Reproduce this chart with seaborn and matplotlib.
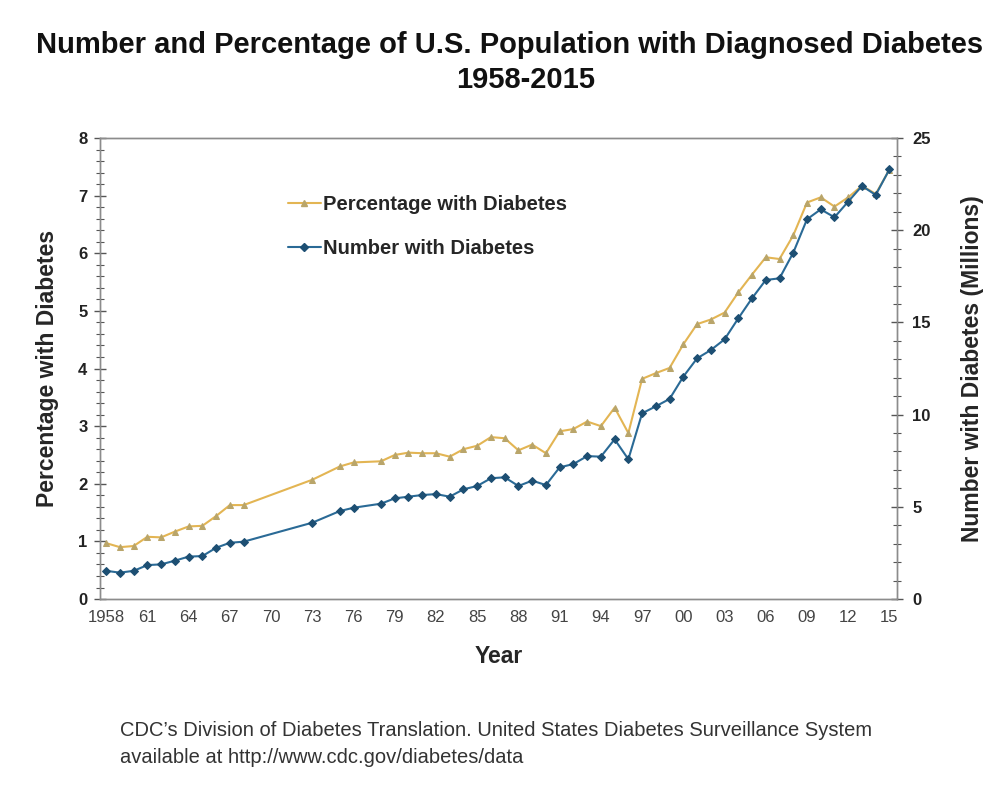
import matplotlib
matplotlib.use("Agg")
import matplotlib.pyplot as plt
from matplotlib.ticker import MultipleLocator, FixedLocator
from matplotlib.lines import Line2D
import seaborn as sns

# -------------------------------
# Data
# -------------------------------
years = [1958, 1959, 1960, 1961, 1962, 1963, 1964, 1965, 1966, 1967, 1968,
         1973, 1975, 1976, 1978, 1979, 1980, 1981, 1982, 1983, 1984, 1985,
         1986, 1987, 1988, 1989, 1990, 1991, 1992, 1993, 1994, 1995, 1996,
         1997, 1998, 1999, 2000, 2001, 2002, 2003, 2004, 2005, 2006, 2007,
         2008, 2009, 2010, 2011, 2012, 2013, 2014, 2015]

pct_diabetes = [0.97, 0.90, 0.92, 1.08, 1.07, 1.17, 1.26, 1.27, 1.44, 1.63, 1.63,
                2.07, 2.30, 2.37, 2.39, 2.50, 2.54, 2.53, 2.53, 2.47, 2.60, 2.66,
                2.81, 2.79, 2.58, 2.68, 2.53, 2.91, 2.95, 3.08, 3.00, 3.32, 2.88,
                3.82, 3.92, 4.01, 4.42, 4.77, 4.85, 4.97, 5.32, 5.63, 5.93, 5.90,
                6.31, 6.88, 6.97, 6.81, 6.97, 7.17, 7.03, 7.45]

num_diabetes = [1.53, 1.43, 1.53, 1.84, 1.88, 2.08, 2.30, 2.33, 2.78, 3.05, 3.11,
                4.14, 4.77, 4.95, 5.17, 5.46, 5.55, 5.64, 5.69, 5.55, 5.95, 6.13,
                6.55, 6.60, 6.13, 6.42, 6.18, 7.14, 7.32, 7.75, 7.72, 8.66, 7.58,
                10.07, 10.45, 10.85, 12.06, 13.05, 13.50, 14.08, 15.22, 16.31, 17.30, 17.39,
                18.78, 20.59, 21.13, 20.70, 21.55, 22.40, 21.91, 23.30]

tick_years = list(range(1958, 2016, 3))
tick_labels = ["1958"] + [str(y)[2:] for y in tick_years[1:]]

title_line1 = "Number and Percentage of U.S. Population with Diagnosed Diabetes"
title_line2 = "1958-2015"
footer_line1 = ("CDC\u2019s Division of Diabetes Translation. United States Diabetes "
                "Surveillance System")
footer_line2 = "available at http://www.cdc.gov/diabetes/data"

# -------------------------------
# Style
# -------------------------------
sns.set_theme(style="white")
plt.rcParams['font.family'] = ['Liberation Sans', 'DejaVu Sans']

pct_color = "#E3B553"
pct_marker_color = "#B9A56A"
num_color = "#2A6A96"
num_marker_color = "#1D4F73"
spine_color = "#8C8C8C"

fig = plt.figure(figsize=(10, 7.88), dpi=100)
ax = fig.add_axes([0.100, 0.2398, 0.797, 0.5851])
ax2 = ax.twinx()

sns.lineplot(x=years, y=pct_diabetes, ax=ax, color=pct_color, linewidth=1.5,
             marker="^", markersize=4.5, markerfacecolor=pct_marker_color,
             markeredgecolor=pct_marker_color)
sns.lineplot(x=years, y=num_diabetes, ax=ax2, color=num_color, linewidth=1.5,
             marker="D", markersize=4.5, markerfacecolor=num_marker_color,
             markeredgecolor=num_marker_color)

ax.set_xlim(1957.55, 2015.55)
ax.set_ylim(0, 8)
ax2.set_ylim(0, 25)

ax.xaxis.set_major_locator(FixedLocator(tick_years))
ax.set_xticklabels(tick_labels)
ax.xaxis.set_minor_locator(MultipleLocator(1))
ax.yaxis.set_major_locator(MultipleLocator(1))
ax.yaxis.set_minor_locator(MultipleLocator(0.2))
ax2.yaxis.set_major_locator(MultipleLocator(5))
ax2.yaxis.set_minor_locator(MultipleLocator(1))

for a in (ax, ax2):
    a.tick_params(which="major", direction="inout", length=8, width=1,
                  color="#555555", labelsize=12, pad=4)
    a.tick_params(which="minor", direction="inout", length=6, width=0.8,
                  color="#555555")
    for s in a.spines.values():
        s.set_color(spine_color)
        s.set_linewidth(1.0)
ax.tick_params(axis="both", which="both", right=False, top=False)
ax.tick_params(axis="x", labelcolor="#444444")
ax.tick_params(axis="y", labelcolor="#222222", pad=5)
ax2.tick_params(axis="y", labelcolor="#222222", pad=7)
for lbl in ax.get_yticklabels() + ax2.get_yticklabels():
    lbl.set_fontweight("bold")

ax.set_xlabel("Year", fontsize=16.5, fontweight="bold", labelpad=14)
ax.set_ylabel("Percentage with Diabetes", fontsize=16.5, fontweight="bold", labelpad=14)
ax2.set_ylabel("Number with Diabetes (Millions)", fontsize=16.5, fontweight="bold",
               labelpad=22)

# Legend
handles = [
    Line2D([], [], color=pct_color, linewidth=1.5, marker="^", markersize=4.5,
           markerfacecolor=pct_marker_color, markeredgecolor=pct_marker_color),
    Line2D([], [], color=num_color, linewidth=1.5, marker="D", markersize=4.5,
           markerfacecolor=num_marker_color, markeredgecolor=num_marker_color),
]
ax2.legend(handles, ["Percentage with Diabetes", "Number with Diabetes"],
           loc="upper left", bbox_to_anchor=(0.2135, 0.915), frameon=False,
           prop={"size": 14.5, "weight": "bold"}, handlelength=1.6,
           handletextpad=0.1, labelspacing=1.25)

# Titles and footer
fig.text(0.510, 0.943, title_line1, ha="center", va="center", fontsize=21,
         fontweight="bold", color="#111111")
fig.text(0.526, 0.898, title_line2, ha="center", va="center", fontsize=21,
         fontweight="bold", color="#111111")
fig.text(0.120, 0.073, footer_line1, ha="left", va="center", fontsize=14.5,
         color="#333333")
fig.text(0.120, 0.039, footer_line2, ha="left", va="center", fontsize=14.5,
         color="#333333")

fig.savefig("out.png", dpi=100)
